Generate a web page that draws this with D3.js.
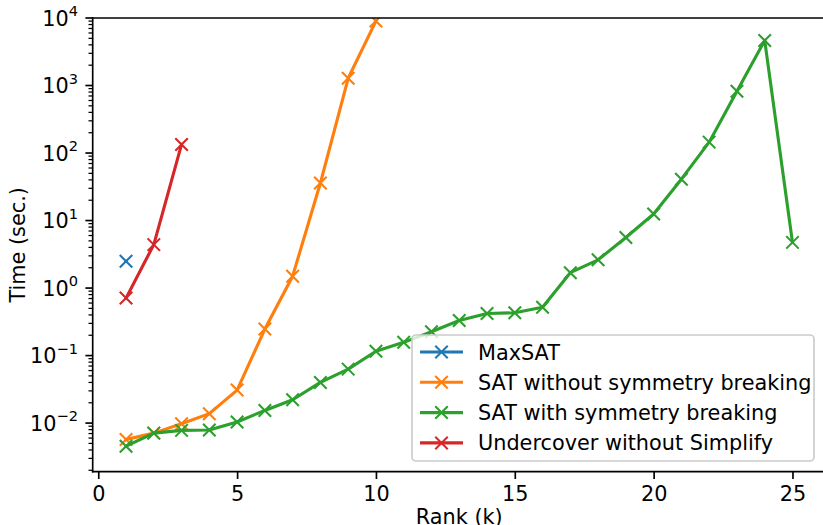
<!DOCTYPE html>
<html>
<head>
<meta charset="utf-8">
<script src="https://cdn.jsdelivr.net/npm/d3@7"></script>
<style>
	body { margin: 0; background: #fff; }
	svg { font-family: "DejaVu Sans", sans-serif; }
</style>
</head>
<body>
<div id="vis"></div>
<script>
const FRAME_WIDTH = 823;
const FRAME_HEIGHT = 525;
const MARGINS = {left: 92.7, right: -2.8, top: 18, bottom: 53.3};
const FONT = 20.8;

// data
const SERIES_NAMES = ["MaxSAT", "SAT without symmetry breaking", "SAT with symmetry breaking", "Undercover without Simplify"];
const COLORS = ["#1f77b4", "#ff7f0e", "#2ca02c", "#d62728"];

const MAXSAT_K = [1];
const MAXSAT_T = [2.5];

const SAT_NOSYM_K = [1, 2, 3, 4, 5, 6, 7, 8, 9, 10];
const SAT_NOSYM_T = [0.0057, 0.0071, 0.0098, 0.0138, 0.0308, 0.247, 1.5, 36, 1280, 9000];

const SAT_SYM_K = [1, 2, 3, 4, 5, 6, 7, 8, 9, 10, 11, 12, 13, 14, 15, 16, 17, 18, 19, 20, 21, 22, 23, 24, 25];
const SAT_SYM_T = [0.00455, 0.0071, 0.0078, 0.0079, 0.0104, 0.0154, 0.0222, 0.040, 0.063, 0.116, 0.157, 0.225, 0.33, 0.42, 0.43, 0.52,
	1.69, 2.62, 5.6, 12.5, 41, 145, 820, 4650, 4.75];

const UNDERCOVER_K = [1, 2, 3];
const UNDERCOVER_T = [0.71, 4.4, 134];

const X_TICKS = [0, 5, 10, 15, 20, 25];
const Y_TICKS = [-2, -1, 0, 1, 2, 3, 4];

const VIS_WIDTH = FRAME_WIDTH - MARGINS.left - MARGINS.right;
const VIS_HEIGHT = FRAME_HEIGHT - MARGINS.top - MARGINS.bottom;

const FRAME = d3.select("#vis")
	.append("svg")
		.attr("width", FRAME_WIDTH)
		.attr("height", FRAME_HEIGHT);

const X_SCALE = d3.scaleLinear()
	.domain([-0.2, 26.2])
	.range([MARGINS.left, MARGINS.left + VIS_WIDTH]);

const Y_SCALE = d3.scaleLog()
	.domain([Math.pow(10, -2.72), 1e4])
	.range([MARGINS.top + VIS_HEIGHT, MARGINS.top]);

const series = [
	{k: MAXSAT_K, t: MAXSAT_T},
	{k: SAT_NOSYM_K, t: SAT_NOSYM_T},
	{k: SAT_SYM_K, t: SAT_SYM_T},
	{k: UNDERCOVER_K, t: UNDERCOVER_T}
].map((s, i) => ({
	name: SERIES_NAMES[i],
	color: COLORS[i],
	points: s.k.map((k, j) => ({k: k, t: s.t[j]}))
}));

// clip
FRAME.append("clipPath")
		.attr("id", "clip")
	.append("rect")
		.attr("x", MARGINS.left)
		.attr("y", MARGINS.top)
		.attr("width", VIS_WIDTH)
		.attr("height", VIS_HEIGHT);

// x axis
const xAxis = FRAME.append("g")
	.attr("transform", "translate(0," + (MARGINS.top + VIS_HEIGHT) + ")")
	.call(d3.axisBottom(X_SCALE).tickValues(X_TICKS).tickSize(7.3).tickPadding(7).tickFormat(d3.format("d")));

xAxis.select(".domain").remove();
xAxis.selectAll(".tick line").attr("stroke", "#000").attr("stroke-width", 1.67);
xAxis.selectAll(".tick text")
	.attr("font-size", FONT)
	.attr("font-family", "DejaVu Sans")
	.attr("fill", "#000");

// y axis minor ticks
const minorTicks = [];
for (let e = -3; e < 4; e++) {
	for (let m = 2; m <= 9; m++) {
		const v = m * Math.pow(10, e);
		if (v >= Y_SCALE.domain()[0] && v <= Y_SCALE.domain()[1]) minorTicks.push(v);
	}
}

FRAME.append("g")
	.selectAll("line")
	.data(minorTicks)
	.enter()
	.append("line")
		.attr("x1", MARGINS.left - 4.2)
		.attr("x2", MARGINS.left)
		.attr("y1", (d) => Y_SCALE(d))
		.attr("y2", (d) => Y_SCALE(d))
		.attr("stroke", "#000")
		.attr("stroke-width", 1.25);

const yMajor = FRAME.append("g")
	.selectAll("g")
	.data(Y_TICKS)
	.enter()
	.append("g")
		.attr("transform", (d) => "translate(0," + Y_SCALE(Math.pow(10, d)) + ")");

yMajor.append("line")
	.attr("x1", MARGINS.left - 7.3)
	.attr("x2", MARGINS.left)
	.attr("stroke", "#000")
	.attr("stroke-width", 1.67);

const yLabels = yMajor.append("text")
	.attr("x", MARGINS.left - 14.6)
	.attr("y", 7.5)
	.attr("text-anchor", "end")
	.attr("font-size", FONT)
	.attr("fill", "#000");

yLabels.append("tspan").text("10");
yLabels.append("tspan")
	.attr("dy", -9.5)
	.attr("font-size", 14.6)
	.text((d) => String(d).replace("-", "\u2212"));

// series
const line = d3.line()
	.x((d) => X_SCALE(d.k))
	.y((d) => Y_SCALE(d.t));

const plot = FRAME.append("g").attr("clip-path", "url(#clip)");

function cross(g, color) {
	g.append("path")
		.attr("d", "M-6.25,-6.25L6.25,6.25M-6.25,6.25L6.25,-6.25")
		.attr("stroke", color)
		.attr("stroke-width", 2.08)
		.attr("fill", "none");
}

series.forEach((s) => {
	plot.append("path")
		.datum(s.points)
		.attr("d", line)
		.attr("fill", "none")
		.attr("stroke", s.color)
		.attr("stroke-width", 3.125)
		.attr("stroke-linejoin", "round")
		.attr("stroke-linecap", "square");

	plot.selectAll(null)
		.data(s.points)
		.enter()
		.append("g")
			.attr("transform", (d) => "translate(" + X_SCALE(d.k) + "," + Y_SCALE(d.t) + ")")
			.each(function() { cross(d3.select(this), s.color); });
});

// spines
FRAME.append("line")
	.attr("x1", MARGINS.left).attr("x2", MARGINS.left)
	.attr("y1", MARGINS.top).attr("y2", MARGINS.top + VIS_HEIGHT)
	.attr("stroke", "#000").attr("stroke-width", 1.67).attr("stroke-linecap", "square");
FRAME.append("line")
	.attr("x1", MARGINS.left).attr("x2", FRAME_WIDTH)
	.attr("y1", MARGINS.top + VIS_HEIGHT).attr("y2", MARGINS.top + VIS_HEIGHT)
	.attr("stroke", "#000").attr("stroke-width", 1.67).attr("stroke-linecap", "square");
FRAME.append("line")
	.attr("x1", MARGINS.left).attr("x2", FRAME_WIDTH)
	.attr("y1", MARGINS.top).attr("y2", MARGINS.top)
	.attr("stroke", "#000").attr("stroke-width", 1.67).attr("stroke-linecap", "square");

// axis labels
FRAME.append("text")
	.attr("x", X_SCALE(13))
	.attr("y", 524)
	.attr("text-anchor", "middle")
	.attr("font-size", FONT)
	.text("Rank (k)");

FRAME.append("text")
	.attr("transform", "translate(25," + (MARGINS.top + VIS_HEIGHT / 2) + ") rotate(-90)")
	.attr("text-anchor", "middle")
	.attr("font-size", FONT)
	.text("Time (sec.)");

// legend
const LEGEND = FRAME.append("g").attr("transform", "translate(412,335)");

LEGEND.append("rect")
	.attr("width", 402)
	.attr("height", 126)
	.attr("rx", 4)
	.attr("fill", "#fff")
	.attr("fill-opacity", 0.8)
	.attr("stroke", "#cccccc")
	.attr("stroke-width", 1.67);

const items = LEGEND.selectAll(".item")
	.data(series)
	.enter()
	.append("g")
		.attr("class", "item")
		.attr("transform", (d, i) => "translate(0," + (17 + i * 30.3) + ")");

items.append("line")
	.attr("x1", 8)
	.attr("x2", 51)
	.attr("stroke", (d) => d.color)
	.attr("stroke-width", 3.125);

items.each(function(d) {
	const g = d3.select(this).append("g").attr("transform", "translate(29.5,0)");
	cross(g, d.color);
});

items.append("text")
	.attr("x", 66)
	.attr("y", 7.5)
	.attr("font-size", FONT)
	.attr("fill", "#000")
	.text((d) => d.name);
</script>
</body>
</html>
